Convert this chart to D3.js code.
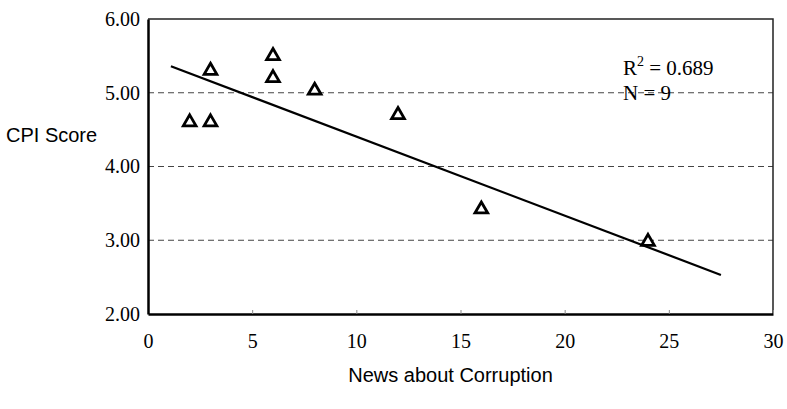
<!DOCTYPE html>
<html>
<head>
<meta charset="utf-8">
<script src="https://cdn.jsdelivr.net/npm/d3@7"></script>
<style>
  body { margin: 0; background: #fff; }
</style>
</head>
<body>
<div id="chart"></div>
<script>
// data
var newsCounts = [2, 3, 3, 6, 6, 8, 12, 16, 24];
var cpiScores  = [4.6, 5.3, 4.6, 5.5, 5.2, 5.03, 4.7, 3.42, 2.98];
var trendX = [1.1, 27.5];
var trendY = [5.36, 2.53];
var xTicks = [0, 5, 10, 15, 20, 25, 30];
var yTicks = [2, 3, 4, 5, 6];
var gridValues = [3, 4, 5];

var width = 787, height = 409;
var margin = {top: 19, right: 14, bottom: 95, left: 148};
var w = width - margin.left - margin.right;
var h = height - margin.top - margin.bottom;
var serif = "'Liberation Serif', 'Times New Roman', serif";

var svg = d3.select("#chart")
  .append("svg")
    .attr("width", width)
    .attr("height", height);

var g = svg.append("g")
  .attr("transform", "translate(" + margin.left + "," + margin.top + ")");

var x = d3.scaleLinear().domain([0, 30]).range([0, w]);
var y = d3.scaleLinear().domain([2, 6]).range([h, 0]);

// dashed grid lines
g.selectAll("line.grid")
  .data(gridValues)
  .enter()
  .append("line")
    .attr("class", "grid")
    .attr("x1", 0)
    .attr("x2", w)
    .attr("y1", function(d) { return y(d); })
    .attr("y2", function(d) { return y(d); })
    .attr("stroke", "#444")
    .attr("stroke-width", 1)
    .attr("stroke-dasharray", "6,4");

// top and right frame
g.append("path")
  .attr("d", "M0,0H" + w + "V" + h)
  .attr("fill", "none")
  .attr("stroke", "#222")
  .attr("stroke-width", 1.5);

// axes
var xAxis = g.append("g")
  .attr("transform", "translate(0," + h + ")")
  .call(d3.axisBottom(x).tickValues(xTicks).tickSizeInner(-4).tickSizeOuter(0).tickPadding(20));
xAxis.select(".domain").attr("stroke-width", 2.5).attr("stroke", "#000");
xAxis.selectAll(".tick line").attr("stroke", "#888");

var yAxis = g.append("g")
  .call(d3.axisLeft(y).tickValues(yTicks).tickFormat(d3.format(".2f")).tickSize(0).tickPadding(8));
yAxis.select(".domain").attr("stroke-width", 2.5).attr("stroke", "#000");

g.selectAll(".tick text")
  .style("font-family", serif)
  .style("font-size", "20px")
  .attr("fill", "#000");

// trend line
var line = d3.line()
  .x(function(d) { return x(d[0]); })
  .y(function(d) { return y(d[1]); });
g.append("path")
  .datum(d3.zip(trendX, trendY))
  .attr("d", line)
  .attr("fill", "none")
  .attr("stroke", "#000")
  .attr("stroke-width", 2.2);

// points
var tri = d3.symbol().type(d3.symbolTriangle).size(70);
g.selectAll("path.pt")
  .data(d3.zip(newsCounts, cpiScores))
  .enter()
  .append("path")
    .attr("class", "pt")
    .attr("d", tri)
    .attr("transform", function(d) { return "translate(" + x(d[0]) + "," + y(d[1]) + ")"; })
    .attr("fill", "#fff")
    .attr("stroke", "#000")
    .attr("stroke-width", 2.8);

// annotation
var ann = g.append("g")
  .style("font-family", serif)
  .style("font-size", "21px")
  .attr("fill", "#000");
var r2 = ann.append("text").attr("x", x(22.8)).attr("y", 56);
r2.append("tspan").text("R");
r2.append("tspan").attr("dy", -9).style("font-size", "14px").text("2");
r2.append("tspan").attr("dy", 9).text(" = 0.689");
ann.append("text").attr("x", x(22.8)).attr("y", 81).text("N = 9");

// axis titles
svg.append("text")
  .attr("x", 6)
  .attr("y", 142)
  .style("font-family", "'Liberation Sans', Arial, sans-serif")
  .style("font-size", "20px")
  .text("CPI Score");

svg.append("text")
  .attr("x", margin.left + w / 2 - 10)
  .attr("y", 382)
  .attr("text-anchor", "middle")
  .style("font-family", "'Liberation Sans', Arial, sans-serif")
  .style("font-size", "20px")
  .text("News about Corruption");
</script>
</body>
</html>
